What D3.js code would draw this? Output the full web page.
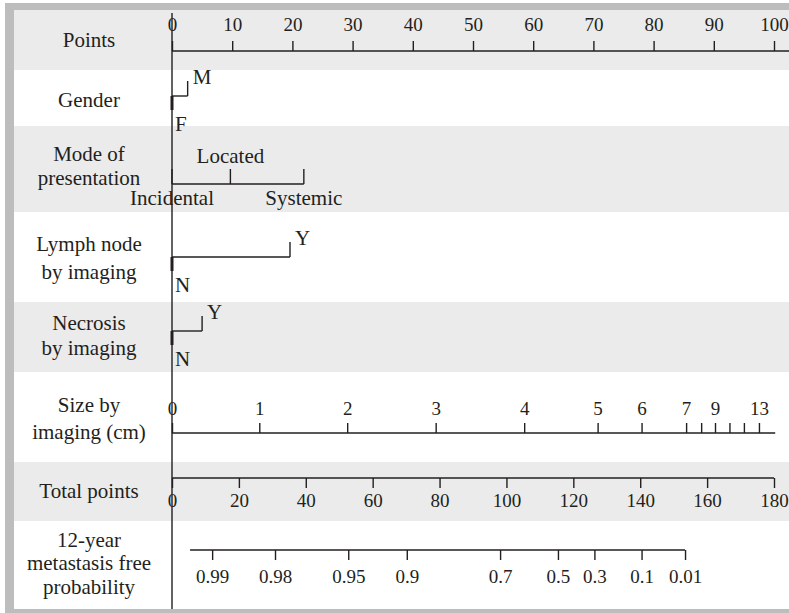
<!DOCTYPE html>
<html>
<head>
<meta charset="utf-8">
<script src="https://cdn.jsdelivr.net/npm/d3@7"></script>
<style>
  html, body { margin: 0; padding: 0; background: #fff; }
  svg { display: block; }
  text { font-family: "Liberation Serif", "Times New Roman", serif; fill: #231f20; }
</style>
</head>
<body>
<svg id="chart" width="789" height="613"></svg>
<script>
// ---------- data ----------
const rowLabels = [
  ["Points"],
  ["Gender"],
  ["Mode of", "presentation"],
  ["Lymph node", "by imaging"],
  ["Necrosis", "by imaging"],
  ["Size by", "imaging (cm)"],
  ["Total points"],
  ["12-year", "metastasis free", "probability"]
];
const pointsTicks = [0, 10, 20, 30, 40, 50, 60, 70, 80, 90, 100];

const genderLevels = ["F", "M"];
const genderPoints = [0, 2.6];

const modeLevels = ["Incidental", "Located", "Systemic"];
const modePoints = [0, 9.7, 21.9];

const lymphLevels = ["N", "Y"];
const lymphPoints = [0, 19.6];

const necrosisLevels = ["N", "Y"];
const necrosisPoints = [0, 5.0];

const sizeValues = [0, 1, 2, 3, 4, 5, 6, 7, 8, 9, 10, 11, 13];
const sizePoints = [0, 14.5, 29.1, 43.8, 58.5, 70.7, 78.0, 85.4, 87.9, 90.2, 92.6, 95.0, 97.5];
const sizeLabelled = [0, 1, 2, 3, 4, 5, 6, 7, 9, 13];
const sizeAxisEndPoints = 100.2;

const totalTicks = [0, 20, 40, 60, 80, 100, 120, 140, 160, 180];

const probLabels = ["0.99", "0.98", "0.95", "0.9", "0.7", "0.5", "0.3", "0.1", "0.01"];
const probTotalPoints = [12.0, 30.8, 52.7, 70.2, 98.1, 115.4, 126.3, 140.4, 153.4];
const probAxisStartPoints = 5.4;

// ---------- layout ----------
const W = 789, H = 613;
const svg = d3.select("#chart");
const ink = "#231f20";
const bandGray = "#ebebeb";
const borderGray = "#bdbdbd";
const serif = "Liberation Serif";

const x0 = 172, x1 = 774;
const xPts = d3.scaleLinear().domain([0, 100]).range([x0, x1]);
const xTot = d3.scaleLinear().domain([0, 180]).range([x0, x1]);
const xSize = d3.scaleLinear().domain(sizeValues).range(sizeValues.map((v, i) => xPts(sizePoints[i])));

// band boundaries (rows)
const bandEdges = [10, 70, 126, 212, 302, 372, 462, 521, 609];
// label baselines per row
const labelBaselines = [[47], [107], [161, 185], [251, 279], [330, 355], [412, 439], [498], [547, 570, 594]];

// frame
svg.append("rect").attr("x", 5).attr("y", 3).attr("width", W - 5).attr("height", H - 3).attr("fill", borderGray);
svg.append("rect").attr("x", 14).attr("y", 10).attr("width", W - 14).attr("height", 599).attr("fill", "#fff");

// bands
svg.append("g").selectAll("rect").data(rowLabels).join("rect")
  .attr("x", 14).attr("width", W - 14)
  .attr("y", (d, i) => bandEdges[i])
  .attr("height", (d, i) => bandEdges[i + 1] - bandEdges[i])
  .attr("fill", (d, i) => i % 2 === 0 ? bandGray : "#fff");

// row labels
const lblG = svg.append("g").attr("font-size", 21).attr("text-anchor", "middle");
rowLabels.forEach((lines, i) => {
  lines.forEach((t, j) => {
    lblG.append("text").attr("x", 89).attr("y", labelBaselines[i][j]).text(t);
  });
});

// vertical reference line
svg.append("line").attr("x1", x0).attr("x2", x0).attr("y1", 13).attr("y2", 609)
  .attr("stroke", ink).attr("stroke-width", 1.4);

const tickFont = 19;
const catFont = 21;

function styleAxis(g) {
  g.attr("font-family", serif);
  g.selectAll(".tick line").attr("stroke", ink).attr("stroke-width", 1.4);
  g.selectAll(".tick text").attr("font-size", tickFont).attr("font-family", serif).attr("fill", ink);
}

// ---- Points axis ----
{
  const y = 51;
  const g = svg.append("g").attr("transform", `translate(0,${y})`);
  const ax = d3.axisTop(xPts).tickValues(pointsTicks).tickSize(10).tickPadding(10).tickSizeOuter(0);
  g.call(ax);
  g.select(".domain").attr("stroke", ink).attr("stroke-width", 1.4).attr("d", `M${x0},0H${W}`);
  styleAxis(g);
}

// ---- binary categorical rows ----
function binaryRow(levels, pts, y) {
  const g = svg.append("g");
  const xa = xPts(pts[0]), xb = xPts(pts[1]);
  g.append("line").attr("x1", xa).attr("x2", xb).attr("y1", y).attr("y2", y)
    .attr("stroke", ink).attr("stroke-width", 1.4);
  // low level: thick mark down
  g.append("line").attr("x1", xa).attr("x2", xa).attr("y1", y).attr("y2", y + 14)
    .attr("stroke", ink).attr("stroke-width", 3);
  g.append("text").attr("x", xa + 3).attr("y", y + 35).attr("font-size", catFont).text(levels[0]);
  // high level: tick up
  g.append("line").attr("x1", xb).attr("x2", xb).attr("y1", y).attr("y2", y - 15)
    .attr("stroke", ink).attr("stroke-width", 1.4);
  g.append("text").attr("x", xb + 5).attr("y", y - 12).attr("font-size", catFont).text(levels[1]);
}
binaryRow(genderLevels, genderPoints, 96);
binaryRow(lymphLevels, lymphPoints, 257);
binaryRow(necrosisLevels, necrosisPoints, 331);

// ---- mode of presentation ----
{
  const y = 184;
  const g = svg.append("g");
  g.append("line").attr("x1", xPts(d3.min(modePoints))).attr("x2", xPts(d3.max(modePoints)))
    .attr("y1", y).attr("y2", y).attr("stroke", ink).attr("stroke-width", 1.4);
  modeLevels.forEach((lv, i) => {
    const x = xPts(modePoints[i]);
    g.append("line").attr("x1", x).attr("x2", x).attr("y1", y).attr("y2", y - 15)
      .attr("stroke", ink).attr("stroke-width", 1.4);
    g.append("text").attr("x", x).attr("y", i % 2 === 1 ? y - 21 : y + 21)
      .attr("text-anchor", "middle").attr("font-size", catFont).text(lv);
  });
}

// ---- size axis ----
{
  const y = 433;
  const g = svg.append("g").attr("transform", `translate(0,${y})`);
  const ax = d3.axisTop(xSize).tickValues(sizeValues).tickSize(10).tickPadding(8)
    .tickFormat(v => sizeLabelled.includes(v) ? String(v) : "").tickSizeOuter(0);
  g.call(ax);
  g.select(".domain").attr("stroke", ink).attr("stroke-width", 1.4)
    .attr("d", `M${x0},0H${xPts(sizeAxisEndPoints)}`);
  styleAxis(g);
}

// ---- total points axis ----
{
  const y = 478;
  const g = svg.append("g").attr("transform", `translate(0,${y})`);
  const ax = d3.axisBottom(xTot).tickValues(totalTicks).tickSize(10).tickPadding(6).tickSizeOuter(0);
  g.call(ax);
  g.select(".domain").attr("stroke", ink).attr("stroke-width", 1.4).attr("d", `M${x0},0H${xTot(180)}`);
  styleAxis(g);
}

// ---- probability axis ----
{
  const y = 550;
  const g = svg.append("g").attr("transform", `translate(0,${y})`);
  const ax = d3.axisBottom(xTot).tickValues(probTotalPoints).tickSize(10).tickPadding(10)
    .tickFormat((v, i) => probLabels[i]).tickSizeOuter(0);
  g.call(ax);
  g.select(".domain").attr("stroke", ink).attr("stroke-width", 1.4)
    .attr("d", `M${xTot(probAxisStartPoints)},0H${xTot(d3.max(probTotalPoints))}`);
  styleAxis(g);
}
</script>
</body>
</html>
